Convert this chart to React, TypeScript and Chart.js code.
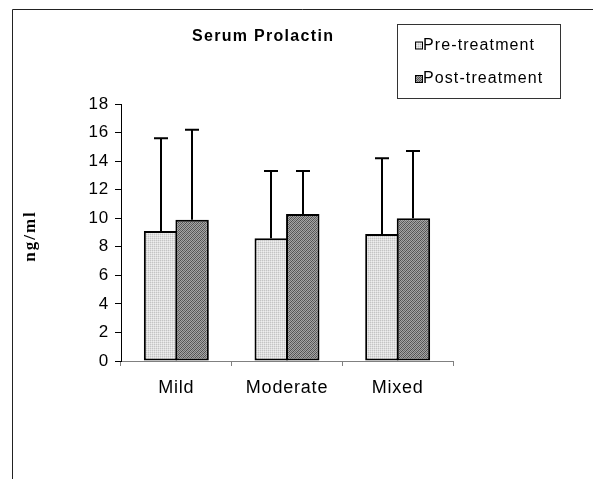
import React, { useEffect, useRef } from "react";
import { Chart, registerables } from "chart.js";

Chart.register(...registerables);

const categories = ["Mild", "Moderate", "Mixed"];
const preValues = [9.1, 8.6, 8.9];
const postValues = [9.9, 10.3, 10.0];
const preErrors = [6.5, 4.7, 5.3];
const postErrors = [6.3, 3.0, 4.7];
const seriesNames = ["Pre-treatment", "Post-treatment"];
const chartTitle = "Serum Prolactin";
const yAxisTitle = "ng/ml";
const yMin = 0;
const yMax = 18;
const yStep = 2;

function makePattern(kind: "light" | "dark"): CanvasPattern | string {
  const c = document.createElement("canvas");
  c.width = 4;
  c.height = 4;
  const g = c.getContext("2d");
  if (!g) return kind === "light" ? "#dcdcdc" : "#808080";
  for (let x = 0; x < 4; x++) {
    for (let y = 0; y < 4; y++) {
      let col: string;
      if (kind === "light") {
        col = x % 2 === 0 && y % 2 === 0 ? "#c4c4c4" : (x + y) % 2 === 0 ? "#eeeeee" : "#dedede";
      } else {
        col = (x + y) % 4 === 0 ? "#505050" : (x + y) % 2 === 0 ? "#6a6a6a" : "#a4a4a4";
      }
      g.fillStyle = col;
      g.fillRect(x, y, 1, 1);
    }
  }
  const p = g.createPattern(c, "repeat");
  return p || (kind === "light" ? "#dcdcdc" : "#808080");
}

export default function App() {
  const canvasRef = useRef<HTMLCanvasElement | null>(null);

  useEffect(() => {
    const canvas = canvasRef.current;
    if (!canvas) return;
    const lightFill = makePattern("light");
    const darkFill = makePattern("dark");
    const errs = [preErrors, postErrors];
    const vals = [preValues, postValues];
    const fills = [lightFill, darkFill];

    const spacingPlugin = {
      id: "spacing",
      beforeUpdate(chart: any) {
        chart.ctx.letterSpacing = "0.8px";
      },
      beforeDraw(chart: any) {
        chart.ctx.letterSpacing = "0.8px";
      },
    };

    const decorPlugin = {
      id: "decor",
      afterDatasetsDraw(chart: any) {
        const ctx = chart.ctx as CanvasRenderingContext2D;
        const yScale = chart.scales.y;
        ctx.save();
        ctx.strokeStyle = "#000";
        ctx.lineWidth = 2;
        for (let d = 0; d < 2; d++) {
          const meta = chart.getDatasetMeta(d);
          meta.data.forEach((el: any, j: number) => {
            const top = yScale.getPixelForValue(vals[d][j] + errs[d][j]);
            const x = Math.round(el.x);
            ctx.beginPath();
            ctx.moveTo(x, el.y);
            ctx.lineTo(x, top);
            ctx.moveTo(x - 7, top);
            ctx.lineTo(x + 7, top);
            ctx.stroke();
          });
        }
        ctx.restore();
      },
      afterDraw(chart: any) {
        const ctx = chart.ctx as CanvasRenderingContext2D;
        ctx.save();
        // outer frame (left and top edges)
        ctx.strokeStyle = "#222";
        ctx.lineWidth = 1;
        ctx.beginPath();
        ctx.moveTo(12.5, 479);
        ctx.lineTo(12.5, 9.5);
        ctx.lineTo(593, 9.5);
        ctx.stroke();

        // title
        (ctx as any).letterSpacing = "1.3px";
        ctx.fillStyle = "#000";
        ctx.font = "bold 16px 'Liberation Sans', Arial, sans-serif";
        ctx.textAlign = "left";
        ctx.textBaseline = "alphabetic";
        ctx.fillText(chartTitle, 192, 40.5);

        // legend box
        ctx.strokeStyle = "#333";
        ctx.lineWidth = 1;
        ctx.strokeRect(397.5, 24.5, 163, 74);
        (ctx as any).letterSpacing = "1.1px";
        ctx.font = "16px 'Liberation Sans', Arial, sans-serif";
        const rows = [49.5, 83];
        for (let i = 0; i < 2; i++) {
          const by = rows[i];
          ctx.fillStyle = fills[i] as any;
          ctx.fillRect(415, by - 7.5, 7, 7);
          ctx.strokeStyle = "#000";
          ctx.lineWidth = 1;
          ctx.strokeRect(415.5, by - 7.5, 7, 7);
          ctx.fillStyle = "#000";
          ctx.fillText(seriesNames[i], 423, by);
        }

        // y axis title
        ctx.font = "bold 17px 'Liberation Serif', 'Times New Roman', serif";
        (ctx as any).letterSpacing = "2px";
        ctx.translate(31, 236);
        ctx.rotate(-Math.PI / 2);
        ctx.textAlign = "center";
        ctx.textBaseline = "middle";
        ctx.fillText(yAxisTitle, 0, 0);
        ctx.restore();
      },
    };

    const chart = new Chart(canvas, {
      type: "bar",
      data: {
        labels: categories,
        datasets: [
          {
            label: seriesNames[0],
            data: preValues,
            backgroundColor: lightFill as any,
            borderColor: "#000",
            borderWidth: 2,
            borderSkipped: false,
            barPercentage: 1.06,
            categoryPercentage: 0.57,
          },
          {
            label: seriesNames[1],
            data: postValues,
            backgroundColor: darkFill as any,
            borderColor: "#000",
            borderWidth: 2,
            borderSkipped: false,
            barPercentage: 1.06,
            categoryPercentage: 0.57,
          },
        ],
      },
      options: {
        responsive: false,
        animation: false,
        events: [],
        layout: { padding: { top: 104, right: 140, left: 0, bottom: 0 } },
        plugins: {
          legend: { display: false },
          title: { display: false },
          tooltip: { enabled: false },
        },
        scales: {
          x: {
            grid: {
              display: true,
              drawOnChartArea: false,
              tickLength: 5,
              color: "#808080",
              offset: true,
            },
            border: { display: true, color: "#808080", width: 1 },
            ticks: {
              color: "#000",
              padding: 11,
              maxRotation: 0,
              font: { family: "'Liberation Sans', Arial, sans-serif", size: 18 },
            },
            afterFit(scale: any) {
              scale.height = 118;
            },
          },
          y: {
            min: yMin,
            max: yMax,
            grid: {
              display: true,
              drawOnChartArea: false,
              tickLength: 6,
              color: "#000",
            },
            border: { display: true, color: "#000", width: 1 },
            ticks: {
              stepSize: yStep,
              color: "#000",
              padding: 6,
              font: { family: "'Liberation Sans', Arial, sans-serif", size: 17 },
            },
            afterFit(scale: any) {
              scale.width = 121;
            },
          },
        },
      },
      plugins: [spacingPlugin, decorPlugin],
    });

    return () => {
      chart.destroy();
    };
  }, []);

  return (
    <div style={{ position: "fixed", left: 0, top: 0, width: 593, height: 479, background: "#fff" }}>
      <canvas ref={canvasRef} width={593} height={479} style={{ display: "block", width: 593, height: 479 }} />
    </div>
  );
}
